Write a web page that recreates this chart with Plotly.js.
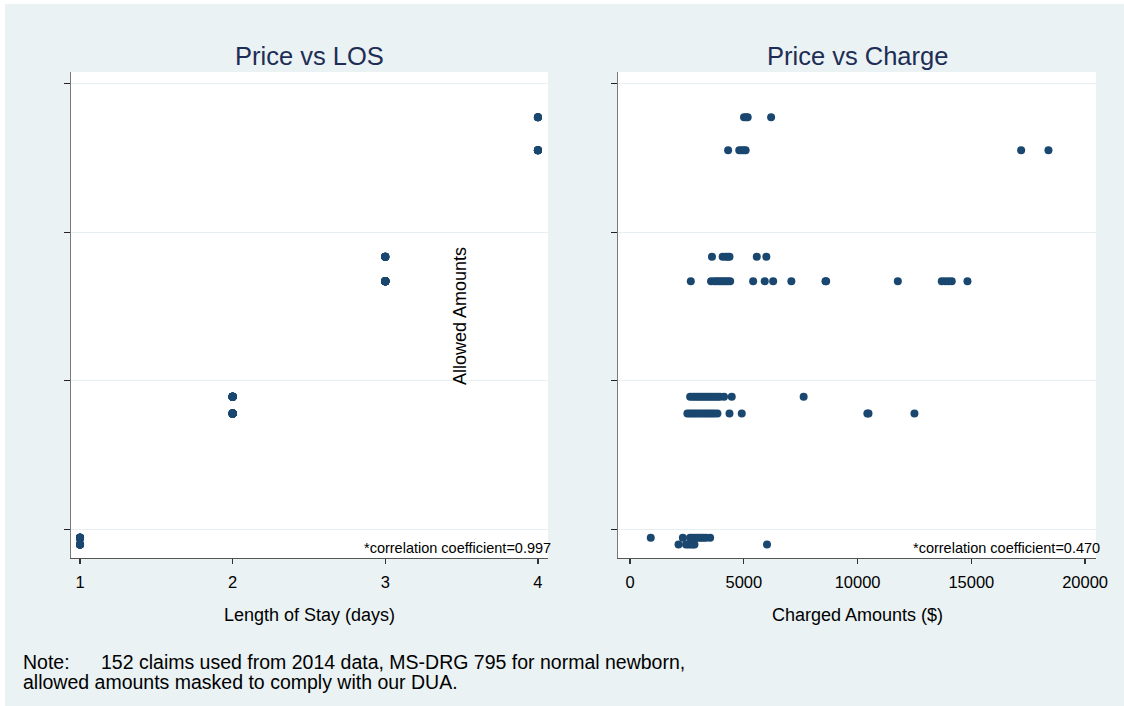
<!DOCTYPE html>
<html>
<head>
<meta charset="utf-8">
<script src="https://cdn.plot.ly/plotly-3.0.1.min.js"></script>
<style>
  html, body { margin: 0; padding: 0; background: #ffffff; width: 1124px; height: 706px; overflow: hidden; }
  #chart { position: absolute; left: 5px; top: 4px; width: 1119px; height: 702px; }
</style>
</head>
<body>
<div id="chart"></div>
<script>
// ---- Data (allowed amounts are masked; values on an arbitrary scale) ----
const rowAllowed = [3773, 3551, 2834, 2670, 1892, 1780, 945, 898];
const rowLOS     = [4, 4, 3, 3, 2, 2, 1, 1];
const rowCharges = [
  [5010, 5100, 5170, 6200],
  [4310, 4800, 4900, 5000, 5080, 17190, 18390],
  [3600, 4070, 4200, 4300, 4370, 5570, 5990],
  [2670, 3560, 3700, 3800, 3900, 4000, 4100, 4200, 4300, 4400, 5410, 5920, 6290, 7090, 8590, 8620, 11770, 13700, 13850, 14000, 14140, 14830],
  [2640, 2750, 2850, 2950, 3050, 3150, 3250, 3350, 3450, 3550, 3650, 3750, 3850, 3950, 4130, 4470, 7630],
  [2520, 2620, 2720, 2820, 2920, 3020, 3120, 3220, 3320, 3420, 3520, 3620, 3720, 3840, 4370, 4910, 10430, 10480, 12500],
  [910, 2320, 2640, 2740, 2840, 2940, 3040, 3140, 3240, 3340, 3520],
  [2130, 2460, 2560, 2660, 2760, 2830, 6020]
];
const losTicks = [1, 2, 3, 4];
const chargeTicks = [0, 5000, 10000, 15000, 20000];
const chargeTickText = ["0", "5000", "10000", "15000", "20000"];
const allowedTicks = [1000, 2000, 3000, 4000];
const panelTitles = ["Price vs LOS", "Price vs Charge"];
const xTitles = ["Length of Stay (days)", "Charged Amounts ($)"];
const corrLabels = ["*correlation coefficient=0.997", "*correlation coefficient=0.470"];
const yTitle = "Allowed Amounts";
const noteLabel = "Note:";
const noteLines = ["152 claims used from 2014 data, MS-DRG 795 for normal newborn,",
                   "allowed amounts masked to comply with our DUA."];

// ---- Build point lists ----
const losX = [], chargeX = [], allowedY = [];
rowCharges.forEach((arr, i) => {
  arr.forEach(c => {
    losX.push(rowLOS[i]);
    chargeX.push(c);
    allowedY.push(rowAllowed[i]);
  });
});

const W = 1119, H = 702, OX = 5, OY = 4;
const px = v => (v - OX) / W;
const py = v => 1 - (v - OY) / H;

const navy = '#1a476f';
const marker = { color: navy, size: 8, line: { width: 0 } };

const traces = [
  { type: 'scatter', mode: 'markers', x: losX, y: allowedY, xaxis: 'x', yaxis: 'y', marker: marker, hoverinfo: 'x+y' },
  { type: 'scatter', mode: 'markers', x: chargeX, y: allowedY, xaxis: 'x2', yaxis: 'y2', marker: marker, hoverinfo: 'x+y' }
];

const FAM = 'Liberation Sans, Arial, sans-serif';
const tickFont = { family: FAM, size: 16.5, color: '#000000' };
const baseX = {
  showline: true, linecolor: '#555555', linewidth: 1.2,
  ticks: 'outside', ticklen: 5, tickcolor: '#333333', tickwidth: 1.2,
  showgrid: false, zeroline: false, tickfont: tickFont, ticklabelstandoff: 4
};
const baseY = {
  showline: true, linecolor: '#7a7a7a', linewidth: 1.5,
  ticks: 'outside', ticklen: 6, tickcolor: '#222222', tickwidth: 1.2,
  showgrid: true, gridcolor: '#e6eff1', gridwidth: 1,
  zeroline: false, showticklabels: false,
  tickmode: 'array', tickvals: allowedTicks, range: [808, 4077]
};

const titleFont = { family: FAM, size: 25.5, color: '#1e2d55' };
const axTitleFont = { family: FAM, size: 18, color: '#000000' };
const corrFont = { family: FAM, size: 14.5, color: '#000000' };
const noteFont = { family: FAM, size: 19.5, color: '#000000' };

const annotations = [
  { text: panelTitles[0], xref: 'x domain', x: 0.5, yref: 'paper', y: py(56), xanchor: 'center', yanchor: 'middle', showarrow: false, font: titleFont },
  { text: panelTitles[1], xref: 'x2 domain', x: 0.5, yref: 'paper', y: py(56), xanchor: 'center', yanchor: 'middle', showarrow: false, font: titleFont },
  { text: xTitles[0], xref: 'x domain', x: 0.5, yref: 'paper', y: py(615), xanchor: 'center', yanchor: 'middle', showarrow: false, font: axTitleFont },
  { text: xTitles[1], xref: 'x2 domain', x: 0.5, yref: 'paper', y: py(615), xanchor: 'center', yanchor: 'middle', showarrow: false, font: axTitleFont },
  { text: corrLabels[0], xref: 'paper', x: px(553), yref: 'paper', y: py(548), xanchor: 'right', yanchor: 'middle', showarrow: false, font: corrFont },
  { text: corrLabels[1], xref: 'paper', x: px(1102), yref: 'paper', y: py(548), xanchor: 'right', yanchor: 'middle', showarrow: false, font: corrFont },
  { text: yTitle, xref: 'paper', x: px(460), yref: 'paper', y: py(316), xanchor: 'center', yanchor: 'middle', textangle: -90, showarrow: false, font: { family: FAM, size: 18, color: '#000000' } },
  { text: noteLabel, xref: 'paper', x: px(21), yref: 'paper', y: py(662), xanchor: 'left', yanchor: 'middle', showarrow: false, font: noteFont },
  { text: noteLines[0], xref: 'paper', x: px(99), yref: 'paper', y: py(662), xanchor: 'left', yanchor: 'middle', showarrow: false, font: noteFont },
  { text: noteLines[1], xref: 'paper', x: px(21), yref: 'paper', y: py(682), xanchor: 'left', yanchor: 'middle', showarrow: false, font: noteFont }
];

const layout = {
  width: W, height: H,
  margin: { l: 0, r: 0, t: 0, b: 0, pad: 0 },
  paper_bgcolor: '#eaf2f3',
  plot_bgcolor: '#ffffff',
  showlegend: false,
  font: { family: FAM },
  xaxis: Object.assign({}, baseX, {
    domain: [(71 - OX) / W, (548 - OX) / W],
    range: [0.941, 4.066], tickmode: 'array', tickvals: losTicks, anchor: 'y'
  }),
  xaxis2: Object.assign({}, baseX, {
    domain: [(618 - OX) / W, (1096 - OX) / W],
    range: [-530, 20480], tickmode: 'array', tickvals: chargeTicks, ticktext: chargeTickText, anchor: 'y2'
  }),
  yaxis: Object.assign({}, baseY, { domain: [py(558), py(72)], anchor: 'x' }),
  yaxis2: Object.assign({}, baseY, { domain: [py(558), py(72)], anchor: 'x2' }),
  annotations: annotations
};

Plotly.newPlot('chart', traces, layout, { displayModeBar: false, staticPlot: true });
</script>
</body>
</html>
